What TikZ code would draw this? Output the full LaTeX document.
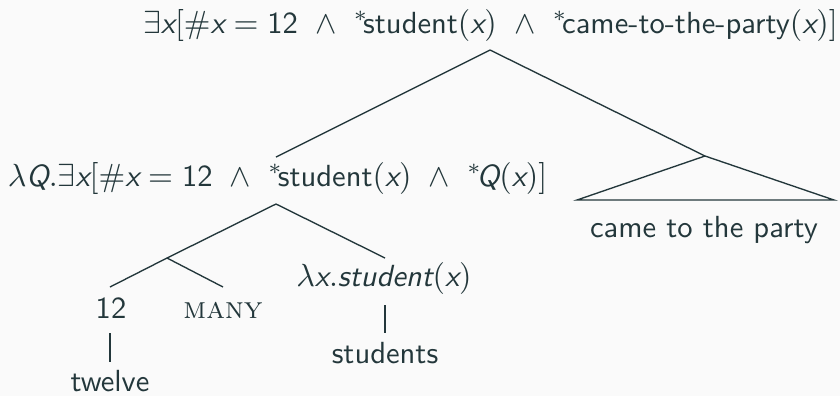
\documentclass[tikz,border=0pt]{standalone}
\usepackage{amsmath}
\renewcommand{\familydefault}{\sfdefault}
\definecolor{ink}{HTML}{23373B}
\definecolor{paper}{HTML}{FAFAFA}
% sans-serif italic variables
\newcommand{\vx}{\textit{x}}
\newcommand{\vQ}{\textit{Q}}
\newcommand{\andop}{\ \wedge\ }
\newcommand{\dist}{{}^{*}\!}
\tikzset{
  lbl/.style={inner sep=0pt, anchor=base, text=ink},
  edge/.style={draw=ink, line width=0.42pt}
}
\begin{document}
\begin{tikzpicture}[x=0.3125pt, y=-0.3125pt, font=\fontsize{9.55}{11.5}\selectfont]
  \fill[paper] (0,0) rectangle (840,396);
  \useasboundingbox (0,0) rectangle (840,396);

  % labels
  \node[lbl] (root) at (490.5,33)
    {$\exists\vx[\#\vx = \text{12}\andop\dist\text{student}(\vx)\andop\dist\text{came-to-the-party}(\vx)]$};
  \node[lbl] (dp) at (277.5,186)
    {$\lambda\vQ.\exists\vx[\#\vx = \text{12}\andop\dist\text{student}(\vx)\andop\dist\vQ(\vx)]$};
  \node[lbl] (vp) at (704,237) {came to the party};
  \node[lbl] (num) at (111,318) {12};
  \node[lbl] (many) at (223,318) {\textrm{\textsc{many}}};
  \node[lbl] (noun) at (384,286) {$\lambda\vx.\textit{student}(\vx)$};
  \node[lbl] (twelve) at (110,391) {twelve};
  \node[lbl] (students) at (385,363) {students};

  % branching points
  \coordinate (r0) at (490,50);
  \coordinate (d0) at (276,157);
  \coordinate (d1) at (276,204);
  \coordinate (v0) at (705,156);
  \coordinate (vl) at (577,200);
  \coordinate (vr) at (834,200);
  \coordinate (q0) at (167,258);
  \coordinate (n0) at (385,258);
  \coordinate (numtop) at (110,287);
  \coordinate (manytop) at (223,287);
  \coordinate (numbot) at (110,333);
  \coordinate (twtop) at (110,362);
  \coordinate (nbot) at (385,305);
  \coordinate (sttop) at (385,333);

  % edges
  \draw[edge] (d0) -- (r0) -- (v0);
  \draw[edge] (v0) -- (vl) -- (vr) -- cycle;
  \draw[edge] (q0) -- (d1) -- (n0);
  \draw[edge] (numtop) -- (q0) -- (manytop);
  \draw[edge] (numbot) -- (twtop);
  \draw[edge] (nbot) -- (sttop);
\end{tikzpicture}
\end{document}
